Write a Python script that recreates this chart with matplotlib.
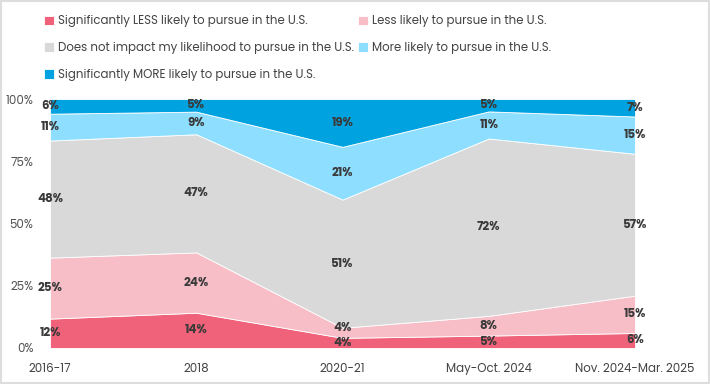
import matplotlib
matplotlib.use("Agg")
import matplotlib.pyplot as plt
import numpy as np
from matplotlib.patches import Rectangle

plt.rcParams['font.family'] = ['Poppins', 'Inter', 'DejaVu Sans']

periods = ["2016-17", "2018", "2020-21", "May-Oct. 2024", "Nov. 2024-Mar. 2025"]
series_names = [
    "Significantly LESS likely to pursue in the U.S.",
    "Less likely to pursue in the U.S.",
    "Does not impact my likelihood to pursue in the U.S.",
    "More likely to pursue in the U.S.",
    "Significantly MORE likely to pursue in the U.S.",
]
sig_less = [12, 14, 4, 5, 6]
less = [25, 24, 4, 8, 15]
no_impact = [48, 47, 51, 72, 57]
more = [11, 9, 21, 11, 15]
sig_more = [6, 5, 19, 5, 7]
colors = ["#F0627A", "#F7BEC8", "#D9D9D9", "#8EDFFF", "#00A3E0"]

data = np.array([sig_less, less, no_impact, more, sig_more], dtype=float)
norm = data / data.sum(axis=0) * 100

fig = plt.figure(figsize=(7.1, 3.84), dpi=100)
ax = fig.add_axes([0.0704, 0.094, 0.824, 0.648])
x = np.arange(len(periods))
ax.stackplot(x, norm, colors=colors, labels=series_names, edgecolor="white", linewidth=0.6)

cum = np.cumsum(norm, axis=0)
min_gap = 6.0
for j in range(len(periods)):
    prev = -100
    for i in range(len(series_names)):
        mid = cum[i, j] - norm[i, j] / 2
        mid = max(mid, prev + min_gap)
        prev = mid
        ax.text(x[j], mid, f"{int(data[i, j])}%", ha="center", va="center",
                fontsize=8.5, fontweight="bold", color="#3a3a3a")

ax.set_xlim(0, len(periods) - 1)
ax.set_ylim(0, 100)
ax.set_xticks(x)
ax.set_xticklabels(periods, fontsize=8.5, color="#444444")
ax.set_yticks([0, 25, 50, 75, 100])
ax.set_yticklabels(["0%", "25%", "50%", "75%", "100%"], fontsize=8.5, color="#555555")
ax.tick_params(axis="y", length=0, pad=12)
ax.tick_params(axis="x", length=0, pad=11)
for s in ax.spines.values():
    s.set_visible(False)

handles, labels = ax.get_legend_handles_labels()
order = [0, 2, 4, 1, 3]
leg = fig.legend([handles[k] for k in order], [labels[k] for k in order],
                 loc="upper left", bbox_to_anchor=(0.055, 0.972), ncol=2,
                 frameon=False, fontsize=8.5, handlelength=0.9, handleheight=0.9,
                 handletextpad=0.3, columnspacing=0.3, labelspacing=1.25, borderaxespad=0)
for t in leg.get_texts():
    t.set_color("#444444")

fig.patches.append(Rectangle((0.001, 0.002), 0.997, 0.995, transform=fig.transFigure,
                             fill=False, edgecolor="#DDDDDD", linewidth=1.5))

fig.savefig("out.png", dpi=100)
